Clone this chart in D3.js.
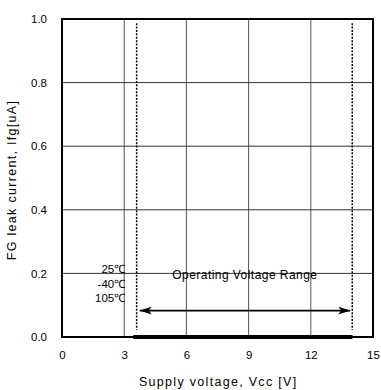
<!DOCTYPE html>
<html>
<head>
<meta charset="utf-8">
<script src="https://cdn.jsdelivr.net/npm/d3@7"></script>
<style>
  html, body { margin: 0; padding: 0; background: #fff; }
  svg { display: block; font-family: "Liberation Sans", Arial, sans-serif; }
</style>
</head>
<body>
<div id="chart"></div>
<script>
"use strict";

// ─── Data ────────────────────────────────────────────────────────────────────
const xTicks = [0, 3, 6, 9, 12, 15];
const yTicks = [0.0, 0.2, 0.4, 0.6, 0.8, 1.0];

// Supply voltage [V] and leak current [uA] per temperature (all read as 0)
const vcc = [3.45, 5, 7, 9, 11, 13, 14];
const ifg25 = [0, 0, 0, 0, 0, 0, 0];
const ifgMinus40 = [0, 0, 0, 0, 0, 0, 0];
const ifg105 = [0, 0, 0, 0, 0, 0, 0];

const tempLabels = ["25℃", "-40℃", "105℃"];

// Operating range markers
const rangeMin = 3.6;
const rangeMax = 14.0;
const arrowY = 0.083;
const arrowFrom = 3.75;
const arrowTo = 13.9;

// ─── Layout ──────────────────────────────────────────────────────────────────
const W = 381, H = 390;
const M = { left: 62, right: 8, top: 19, bottom: 53 };

const svg = d3.select("#chart").append("svg")
  .attr("width", W).attr("height", H);

const x = d3.scaleLinear().domain([0, 15]).range([M.left, W - M.right]);
const y = d3.scaleLinear().domain([0, 1]).range([H - M.bottom, M.top]);

const defs = svg.append("defs");
defs.append("marker")
  .attr("id", "arrowhead")
  .attr("viewBox", "0 0 12 8")
  .attr("refX", 12).attr("refY", 4)
  .attr("markerWidth", 12).attr("markerHeight", 8)
  .attr("markerUnits", "userSpaceOnUse")
  .attr("orient", "auto-start-reverse")
  .append("path")
  .attr("d", "M0,0 L12,4 L0,8 L3,4 Z")
  .attr("fill", "#000");

// Grid
svg.append("g")
  .selectAll("line.vgrid")
  .data(xTicks.slice(1, -1))
  .join("line")
  .attr("x1", (d) => x(d)).attr("x2", (d) => x(d))
  .attr("y1", y(1)).attr("y2", y(0))
  .attr("stroke", "#555").attr("stroke-width", 1);

svg.append("g")
  .selectAll("line.hgrid")
  .data(yTicks.slice(1, -1))
  .join("line")
  .attr("x1", x(0)).attr("x2", x(15))
  .attr("y1", (d) => y(d)).attr("y2", (d) => y(d))
  .attr("stroke", "#333").attr("stroke-width", 1);

// Axes (labels only, frame drawn separately)
const xAxis = d3.axisBottom(x).tickValues(xTicks).tickSize(0).tickPadding(14)
  .tickFormat(d3.format("d"));
svg.append("g")
  .attr("transform", `translate(0,${y(0)})`)
  .call(xAxis)
  .call((g) => g.select(".domain").remove())
  .call((g) => g.selectAll("text").attr("font-size", 11.5).attr("fill", "#000")
    .attr("font-family", "'Liberation Sans', Arial, sans-serif"));

const yAxis = d3.axisLeft(y).tickValues(yTicks).tickSize(0).tickPadding(15)
  .tickFormat(d3.format(".1f"));
svg.append("g")
  .attr("transform", `translate(${x(0)},0)`)
  .call(yAxis)
  .call((g) => g.select(".domain").remove())
  .call((g) => g.selectAll("text").attr("font-size", 11.5).attr("fill", "#000")
    .attr("font-family", "'Liberation Sans', Arial, sans-serif"));

// Operating range dotted lines
svg.append("g")
  .selectAll("line")
  .data([rangeMin, rangeMax])
  .join("line")
  .attr("x1", (d) => x(d)).attr("x2", (d) => x(d))
  .attr("y1", y(0.987)).attr("y2", y(0.022))
  .attr("stroke", "#000").attr("stroke-width", 1.5)
  .attr("stroke-dasharray", "2,1.4");

// Data series (all zero)
const line = d3.line().x((d) => x(d[0])).y((d) => y(d[1]));
[ifg25, ifgMinus40, ifg105].forEach((series) => {
  svg.append("path")
    .datum(vcc.map((v, i) => [v, series[i]]))
    .attr("d", line)
    .attr("fill", "none")
    .attr("stroke", "#000")
    .attr("stroke-width", 3.5);
});

// Frame
svg.append("rect")
  .attr("x", x(0)).attr("y", y(1))
  .attr("width", x(15) - x(0)).attr("height", y(0) - y(1))
  .attr("fill", "none").attr("stroke", "#000").attr("stroke-width", 2);

// Arrow
svg.append("line")
  .attr("x1", x(arrowFrom)).attr("x2", x(arrowTo))
  .attr("y1", y(arrowY)).attr("y2", y(arrowY))
  .attr("stroke", "#000").attr("stroke-width", 1.6)
  .attr("marker-start", "url(#arrowhead)")
  .attr("marker-end", "url(#arrowhead)");

svg.append("text")
  .attr("x", x((rangeMin + rangeMax) / 2) + 0.4).attr("y", y(0.183))
  .attr("text-anchor", "middle").attr("font-size", 12)
  .attr("letter-spacing", 0.45)
  .text("Operating Voltage Range");

// Temperature labels
svg.append("g")
  .selectAll("text")
  .data(tempLabels)
  .join("text")
  .attr("x", x(3) + 1)
  .attr("y", (d, i) => y(0.2) - 0.5 + i * 14.7)
  .attr("text-anchor", "end").attr("font-size", 11.5)
  .text((d) => d);

// Axis titles
svg.append("text")
  .attr("x", (x(0) + x(15)) / 2 + 0.7).attr("y", 386)
  .attr("text-anchor", "middle").attr("font-size", 12.5)
  .attr("letter-spacing", 1.3)
  .text("Supply voltage, Vcc [V]");

svg.append("text")
  .attr("transform", `translate(16,${(y(0) + y(1)) / 2 + 2}) rotate(-90)`)
  .attr("text-anchor", "middle").attr("font-size", 12.5)
  .attr("letter-spacing", 1.3)
  .text("FG leak current, Ifg[uA]");
</script>
</body>
</html>
